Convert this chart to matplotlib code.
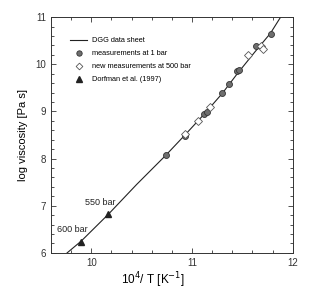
import numpy as np
import matplotlib.pyplot as plt
from matplotlib.ticker import MultipleLocator

plt.rcParams['font.family'] = ['Liberation Sans', 'DejaVu Sans']

# DGG data sheet curve
dgg_x = [9.76, 9.90, 10.17, 10.45, 10.74, 10.93, 11.12, 11.30, 11.45, 11.62, 11.78, 11.88]
dgg_y = [6.00, 6.25, 6.82, 7.45, 8.07, 8.50, 8.94, 9.38, 9.80, 10.25, 10.66, 11.00]

# measurements at 1 bar
bar1_x = [10.74, 10.93, 11.12, 11.146, 11.30, 11.37, 11.445, 11.47, 11.64, 11.78]
bar1_y = [8.08, 8.47, 8.94, 8.98, 9.39, 9.58, 9.85, 9.87, 10.38, 10.64]

# new measurements at 500 bar
bar500_x = [10.935, 11.056, 11.175, 11.56, 11.69, 11.71]
bar500_y = [8.53, 8.80, 9.09, 10.20, 10.38, 10.32]

# Dorfman et al. (1997)
dorf_x = [9.90, 10.17]
dorf_y = [6.24, 6.83]
dorf_labels = ["600 bar", "550 bar"]
dorf_label_xy = [(9.81, 6.49), (10.09, 7.07)]

fig = plt.figure(figsize=(3.11, 2.91), dpi=100)
ax = fig.add_axes([0.164, 0.131, 0.777, 0.810])

ax.plot(dgg_x, dgg_y, color='#222222', lw=0.8, label='DGG data sheet')
ax.plot(bar1_x, bar1_y, 'o', ms=4.3, mfc='#6e6e6e', mec='#333333', mew=0.6,
        label='measurements at 1 bar')
ax.plot(bar500_x, bar500_y, 'D', ms=3.8, mfc='white', mec='#555555', mew=0.6,
        label='new measurements at 500 bar')
ax.plot(dorf_x, dorf_y, '^', ms=4.3, mfc='#222222', mec='#222222',
        label='Dorfman et al. (1997)')
for lab, (tx, ty) in zip(dorf_labels, dorf_label_xy):
    ax.text(tx, ty, lab, fontsize=6.5, ha='center', va='center', color='#222222')

ax.set_xlim(9.6, 12)
ax.set_ylim(6, 11)
ax.xaxis.set_major_locator(MultipleLocator(1))
ax.xaxis.set_minor_locator(MultipleLocator(0.2))
ax.yaxis.set_major_locator(MultipleLocator(1))
ax.yaxis.set_minor_locator(MultipleLocator(0.2))
ax.tick_params(which='both', direction='in', top=True, right=True,
               labelsize=7, colors='#333333', width=0.6)
ax.tick_params(which='major', length=3.5)
ax.tick_params(which='minor', length=2)
for s in ax.spines.values():
    s.set_linewidth(0.7)
    s.set_color('#333333')

ax.set_xlabel(r'10$^4$/ T [K$^{-1}$]', fontsize=8.5, labelpad=2)
ax.xaxis.set_label_coords(0.42, -0.075)
ax.set_ylabel('log viscosity [Pa s]', fontsize=8, labelpad=5)

ax.legend(loc='upper left', bbox_to_anchor=(0.079, 0.915), frameon=False,
          fontsize=5.3, handlelength=2.3, handletextpad=0.7, labelspacing=0.8,
          borderaxespad=0, borderpad=0, markerscale=0.9)

fig.savefig('out.png', dpi=100, facecolor='white')
